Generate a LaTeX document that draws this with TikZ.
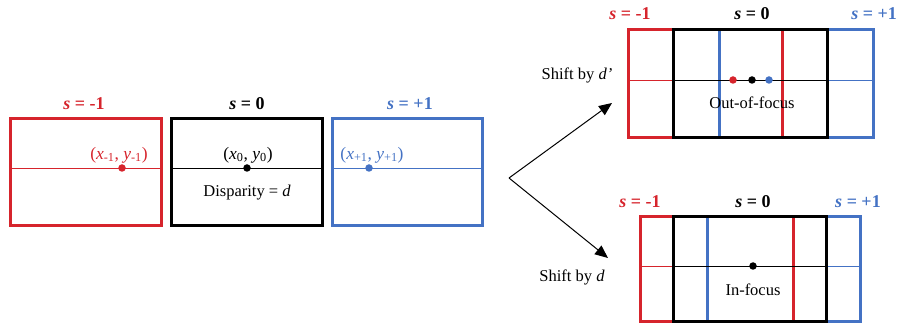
\documentclass[tikz,border=0pt]{standalone}
\usepackage{fontspec}
\setmainfont{Liberation Serif}
\usetikzlibrary{arrows.meta}
\definecolor{myred}{RGB}{214,36,44}
\definecolor{myblue}{RGB}{68,114,196}
\begin{document}
\begin{tikzpicture}[x=1pt,y=-1pt,
  frame/.style={line width=3pt},
  midl/.style={line width=0.9pt},
  dotc/.style={circle,fill,inner sep=0pt,minimum size=7.5pt},
  hdr/.style={font=\fontsize{18}{21}\selectfont\bfseries},
  txt/.style={font=\fontsize{16.5}{19}\selectfont},
  coord/.style={font=\fontsize{17.5}{20}\selectfont},
  arr/.style={line width=1pt,-{Triangle[length=13pt,width=11pt]}}]
\useasboundingbox (0,0) rectangle (898,323);
% ---------- left three frames ----------
\draw[frame,myred] (10,119) rectangle (161,226);
\draw[midl,myred] (10,168) -- (161,168);
\draw[frame,black] (171,119) rectangle (322,226);
\draw[midl,black] (171,168) -- (322,168);
\draw[frame,myblue] (332,119) rectangle (482,226);
\draw[midl,myblue] (332,168) -- (482,168);
\node[dotc,myred] (pr) at (122,168) {};
\node[dotc,black] (p0) at (247,168) {};
\node[dotc,myblue] (pb) at (369,168) {};
\node[hdr,myred] (h1) at (84,104) {\textit{s} = -1};
\node[hdr,black] (h2) at (247,104) {\textit{s} = 0};
\node[hdr,myblue] (h3) at (410,104) {\textit{s} = +1};
\node[coord,myred] (c1) at (119,155) {(\textit{x}\textsubscript{-1}, \textit{y}\textsubscript{-1})};
\node[coord,black] (c2) at (248,155) {(\textit{x}\textsubscript{0}, \textit{y}\textsubscript{0})};
\node[coord,myblue] (c3) at (372,155) {(\textit{x}\textsubscript{+1}, \textit{y}\textsubscript{+1})};
\node[txt] (disp) at (247,193) {Disparity = \textit{d}};
% ---------- arrows ----------
\coordinate (v) at (509,178);
\coordinate (t1) at (612,103);
\coordinate (t2) at (608,258);
\draw[arr] (v) -- (t1);
\draw[arr] (v) -- (t2);
% ---------- top right: out of focus ----------
\draw[frame,myred] (628,30) rectangle (782,138);
\draw[midl,myred] (628,80) -- (782,80);
\draw[frame,myblue] (719,30) rectangle (873,138);
\draw[midl,myblue] (719,80) -- (873,80);
\draw[frame,black] (673,30) rectangle (827,138);
\draw[midl,black] (673,80) -- (827,80);
\node[dotc,myred] (qr) at (733,80) {};
\node[dotc,black] (q0) at (752,80) {};
\node[dotc,myblue] (qb) at (769,80) {};
\node[hdr,myred] (k1) at (630,14) {\textit{s} = -1};
\node[hdr,black] (k2) at (752,14) {\textit{s} = 0};
\node[hdr,myblue,anchor=east,inner xsep=1pt] (k3) at (898,14) {\textit{s} = +1};
\node[txt] (sh1) at (577,75) {Shift by \textit{d'}};
\node[txt] (oof) at (752,103) {Out-of-focus};
% ---------- bottom right: in focus ----------
\draw[frame,myred] (640,217) rectangle (793,322);
\draw[midl,myred] (640,266) -- (793,266);
\draw[frame,myblue] (707,217) rectangle (860,322);
\draw[midl,myblue] (707,266) -- (860,266);
\draw[frame,black] (673,217) rectangle (826,322);
\draw[midl,black] (673,266) -- (826,266);
\node[dotc,black] (r0) at (753,266) {};
\node[hdr,myred] (m1) at (640,202) {\textit{s} = -1};
\node[hdr,black] (m2) at (753,202) {\textit{s} = 0};
\node[hdr,myblue] (m3) at (858,202) {\textit{s} = +1};
\node[txt] (sh2) at (572,277) {Shift by \textit{d}};
\node[txt] (inf) at (753,290) {In-focus};
\end{tikzpicture}
\end{document}
